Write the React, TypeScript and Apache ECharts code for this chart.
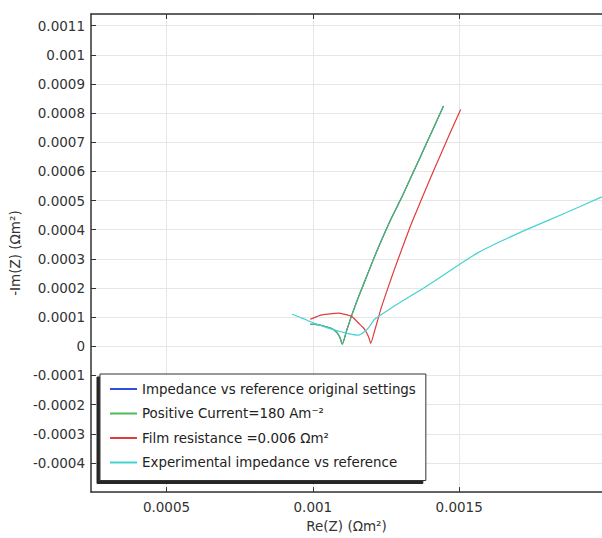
import { useEffect, useRef } from 'react';
import * as echarts from 'echarts';

// Tick positions on the Re(Z) axis
const xTickValues = [0.0005, 0.001, 0.0015];

// Impedance vs reference, original settings
const originalRe = [0.000991, 0.0010078, 0.0010305, 0.0010644, 0.0010814, 0.0010926, 0.0011007, 0.0011153, 0.0011322, 0.0011549, 0.0011773, 0.0012, 0.0012227, 0.0012678, 0.0013017, 0.0013356, 0.0013695, 0.0014034, 0.0014465];
const originalIm = [0.0000758, 0.0000752, 0.0000714, 0.0000612, 0.0000476, 0.0000306, 0.0000078, 0.0000534, 0.0001044, 0.0001666, 0.0002234, 0.0002806, 0.0003367, 0.0004387, 0.0005068, 0.0005809, 0.000655, 0.0007292, 0.000824];

// Positive current = 180 A/m^2
const positiveRe = [0.000991, 0.0010078, 0.0010305, 0.0010644, 0.0010814, 0.0010926, 0.0011007, 0.0011153, 0.0011322, 0.0011549, 0.0011773, 0.0012, 0.0012227, 0.0012678, 0.0013017, 0.0013356, 0.0013695, 0.0014034, 0.0014465];
const positiveIm = [0.0000758, 0.0000752, 0.0000714, 0.0000612, 0.0000476, 0.0000306, 0.0000078, 0.0000534, 0.0001044, 0.0001666, 0.0002234, 0.0002806, 0.0003367, 0.0004387, 0.0005068, 0.0005809, 0.000655, 0.0007292, 0.000824];

// Film resistance = 0.006 Ohm m^2
const filmRe = [0.0009908, 0.0010136, 0.0010305, 0.0010644, 0.0010871, 0.0011095, 0.0011322, 0.0011434, 0.0011576, 0.0011719, 0.0011814, 0.0011888, 0.0011939, 0.0011976, 0.0012112, 0.0012339, 0.0012566, 0.001279, 0.0013017, 0.0013356, 0.0013695, 0.0014034, 0.0014373, 0.0014712, 0.0015051];
const filmIm = [0.0000928, 0.000102, 0.0001078, 0.0001122, 0.0001139, 0.0001099, 0.0001031, 0.0000928, 0.0000782, 0.0000646, 0.000051, 0.0000364, 0.0000221, 0.0000102, 0.0000534, 0.0001326, 0.0002007, 0.000265, 0.000327, 0.000418, 0.0005, 0.000581, 0.000659, 0.000737, 0.0008128];

// Experimental impedance vs reference
const experimentalRe = [0.0009288, 0.0009627, 0.0009908, 0.0010305, 0.0010644, 0.0010983, 0.001121, 0.0011549, 0.0011773, 0.0011932, 0.0012112, 0.0012566, 0.0013017, 0.0013583, 0.0014146, 0.0014993, 0.0015617, 0.0016407, 0.0017536, 0.0018668, 0.0019797, 0.0020136];
const experimentalIm = [0.0001099, 0.0000969, 0.000085, 0.0000697, 0.0000588, 0.0000493, 0.0000435, 0.0000384, 0.000051, 0.000068, 0.0000928, 0.0001241, 0.000153, 0.000187, 0.0002234, 0.0002799, 0.0003197, 0.0003595, 0.0004105, 0.0004591, 0.0005091, 0.0005237];

const seriesNames = [
  'Impedance vs reference original settings',
  'Positive Current=180 Am⁻²',
  'Film resistance =0.006 Ωm²',
  'Experimental impedance vs reference',
];
const seriesColors = ['#2f4fd8', '#4cbb5a', '#e03c3c', '#45d2d2'];

const zip = (xs: number[], ys: number[]) => xs.map((x, i) => [x, ys[i]]);

const FONT = 'DejaVu Sans';
const fmt = (v: number) => String(parseFloat(v.toFixed(6)));

export default function App() {
  const ref = useRef<HTMLDivElement>(null);

  useEffect(() => {
    if (!ref.current) return;
    const chart = echarts.init(ref.current, undefined, { renderer: 'svg' });
    const seriesData = [
      zip(originalRe, originalIm),
      zip(positiveRe, positiveIm),
      zip(filmRe, filmIm),
      zip(experimentalRe, experimentalIm),
    ];
    const xMin = 0.000242;
    const xMax = 0.001988;
    chart.setOption({
      animation: false,
      backgroundColor: '#ffffff',
      grid: { left: 87, right: 0, top: 14, bottom: 43 },
      xAxis: [
        {
          type: 'value',
          position: 'bottom',
          min: xMin,
          max: xMax,
          name: 'Re(Z) (Ωm²)',
          nameLocation: 'middle',
          nameGap: 25,
          nameTextStyle: { fontFamily: FONT, fontSize: 13.5, color: '#333' },
          axisLine: { show: true, onZero: false, lineStyle: { color: '#333', width: 1.5 } },
          axisTick: { show: true, inside: true, length: 5, customValues: xTickValues, lineStyle: { color: '#333' } },
          axisLabel: { customValues: xTickValues, formatter: fmt, fontFamily: FONT, fontSize: 13.5, color: '#333', margin: 8 },
          splitLine: { show: true, lineStyle: { color: '#e6e6e6', width: 1 } },
        },
        {
          type: 'value',
          position: 'top',
          min: xMin,
          max: xMax,
          axisLine: { show: true, onZero: false, lineStyle: { color: '#333', width: 1.5 } },
          axisTick: { show: true, inside: true, length: 5, customValues: xTickValues, lineStyle: { color: '#333' } },
          axisLabel: { show: false },
          splitLine: { show: false },
        },
      ],
      yAxis: {
        type: 'value',
        min: -0.0005,
        max: 0.00114,
        interval: 0.0001,
        name: '-Im(Z) (Ωm²)',
        nameLocation: 'middle',
        nameRotate: 90,
        nameGap: 60,
        nameTextStyle: { fontFamily: FONT, fontSize: 13.5, color: '#333' },
        axisLine: { show: true, onZero: false, lineStyle: { color: '#333', width: 1.5 } },
        axisTick: { show: true, inside: true, length: 5, lineStyle: { color: '#333' } },
        axisLabel: {
          formatter: fmt,
          showMinLabel: false,
          showMaxLabel: false,
          fontFamily: FONT,
          fontSize: 13.5,
          color: '#333',
          margin: 6,
        },
        splitLine: { show: true, lineStyle: { color: '#e6e6e6', width: 1 } },
      },
      legend: {
        orient: 'vertical',
        left: 100,
        top: 374,
        padding: [7, 10, 10, 10],
        itemGap: 8.5,
        itemWidth: 27,
        itemHeight: 2,
        icon: 'rect',
        backgroundColor: '#ffffff',
        borderColor: '#333',
        borderWidth: 1,
        shadowColor: 'rgba(0,0,0,0.85)',
        shadowBlur: 1,
        shadowOffsetX: -3,
        shadowOffsetY: 3,
        textStyle: { fontFamily: FONT, fontSize: 13.4, color: '#222', lineHeight: 16 },
        data: seriesNames,
      },
      series: seriesNames.map((name, i) => ({
        name,
        type: 'line',
        xAxisIndex: 0,
        data: seriesData[i],
        showSymbol: false,
        smooth: 0.2,
        clip: true,
        color: seriesColors[i],
        lineStyle: { width: 1.2, color: seriesColors[i] },
        z: 2 + i,
      })),
    });
    return () => chart.dispose();
  }, []);

  return (
    <div
      ref={ref}
      style={{ position: 'absolute', left: 0, top: 0, width: 602, height: 538 }}
    />
  );
}
